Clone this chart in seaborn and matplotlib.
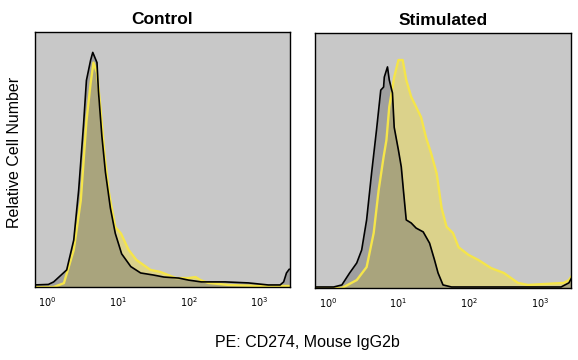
import numpy as np
import matplotlib
matplotlib.use("Agg")
from matplotlib import pyplot as plt
import seaborn as sns

# decade position (log10 of PE intensity) and relative cell number (% of axis height)
ctrl_iso_x = [-0.2, 0.01, 0.085, 0.27, 0.37, 0.44, 0.51, 0.55, 0.61, 0.64, 0.70, 0.72, 0.77, 0.82, 0.89, 0.96,
              1.05, 1.18, 1.32, 1.50, 1.65, 1.86, 2.0, 2.18, 2.52, 2.85, 3.13, 3.30, 3.35, 3.39, 3.43]
ctrl_iso_y = [0.8, 1.0, 2.0, 6.7, 18.4, 38, 64, 81, 89, 92, 88, 77, 59, 45, 31, 21,
              13, 8, 5.5, 4.7, 3.9, 3.5, 2.7, 2.0, 2.0, 1.6, 0.8, 0.8, 2.0, 5.5, 7.0]
ctrl_cd_x = [-0.2, 0.085, 0.23, 0.37, 0.47, 0.55, 0.61, 0.65, 0.70, 0.75, 0.81, 0.87, 0.96, 1.04, 1.15, 1.26,
             1.46, 1.60, 1.82, 2.0, 2.10, 2.17, 2.28, 2.57, 3.0, 3.43]
ctrl_cd_y = [0.0, 0.0, 1.5, 14.5, 34, 65, 80, 88, 84, 70, 51, 37, 23.5, 21, 14.5, 10.6,
             6.7, 5.9, 3.5, 3.5, 3.9, 2.7, 1.6, 0.8, 0.4, 0.4]

stim_iso_x = [-0.16, 0.085, 0.20, 0.31, 0.41, 0.48, 0.55, 0.62, 0.69, 0.75, 0.79, 0.80, 0.845, 0.87, 0.915,
              0.94, 1.0, 1.04, 1.07, 1.11, 1.18, 1.25, 1.35, 1.44, 1.51, 1.56, 1.63, 1.75, 2.45, 3.30, 3.41, 3.45]
stim_iso_y = [0.4, 0.4, 1.2, 5.9, 9.8, 14.9, 26.7, 45, 62, 77.6, 78.8, 82.7, 86.7, 81.6, 76.5,
              63, 54, 47.5, 38.4, 26.7, 25.5, 23.5, 22, 17.6, 11, 5.9, 1.2, 0.4, 0.4, 0.4, 2.0, 4.0]
stim_cd_x = [-0.16, 0.20, 0.41, 0.55, 0.65, 0.72, 0.79, 0.83, 0.87, 0.94, 1.0, 1.06, 1.11, 1.18, 1.25, 1.32,
             1.39, 1.46, 1.54, 1.61, 1.68, 1.77, 1.85, 1.99, 2.13, 2.31, 2.49, 2.69, 2.83, 3.34, 3.41, 3.45]
stim_cd_y = [0.0, 0.0, 3.1, 8.2, 21.6, 38.4, 51.4, 58, 71, 82.7, 89.4, 89.4, 81.6, 75, 71, 67,
             59, 53, 45, 31.4, 24, 21.6, 16, 13, 11, 7.8, 5.9, 2.0, 1.2, 2.0, 3.1, 4.7]

titles = ["Control", "Stimulated"]
xlabel = "PE: CD274, Mouse IgG2b"
ylabel = "Relative Cell Number"

sns.set_style("white")
plt.rcParams['font.family'] = ['Liberation Sans', 'DejaVu Sans']
plt.rcParams['text.color'] = 'black'
plt.rcParams['xtick.color'] = 'black'

fig = plt.figure(figsize=(5.78, 3.6), dpi=100)
ax1 = fig.add_axes([35 / 578, 73 / 360, 255 / 578, 255 / 360])
ax2 = fig.add_axes([315 / 578, 72 / 360, 256 / 578, 255 / 360])

panels = [(ax1, ctrl_iso_x, ctrl_iso_y, ctrl_cd_x, ctrl_cd_y),
          (ax2, stim_iso_x, stim_iso_y, stim_cd_x, stim_cd_y)]

for (ax, ix, iy, cx, cy), title in zip(panels, titles):
    ax.set_facecolor('#c8c8c8')
    ix_v = 10 ** np.array(ix)
    cx_v = 10 ** np.array(cx)
    ax.fill_between(cx_v, cy, color='#ebdc5a', alpha=0.55, lw=0)
    ax.fill_between(ix_v, iy, color='#6e6e6e', alpha=0.45, lw=0)
    sns.lineplot(x=cx_v, y=cy, sort=False, ax=ax, color='#f5e54a', lw=1.7)
    sns.lineplot(x=ix_v, y=iy, sort=False, ax=ax, color='black', lw=1.2)
    ax.set_xscale('log')
    ax.set_xlim(10 ** -0.18, 10 ** 3.44)
    ax.set_ylim(0, 100)
    ax.set_xticks([1, 10, 100, 1000])
    ax.set_xticklabels([r'$10^{0}$', r'$10^{1}$', r'$10^{2}$', r'$10^{3}$'])
    ax.xaxis.set_minor_locator(matplotlib.ticker.NullLocator())
    ax.set_yticks([])
    ax.tick_params(axis='x', length=0, pad=6, labelsize=7, labelcolor='black')
    for s in ax.spines.values():
        s.set_color('black')
        s.set_linewidth(1.0)
        s.set_visible(True)
    ax.set_title(title, fontsize=12.5, fontweight='bold', pad=6, color='black')
    ax.set_xlabel('')
    ax.set_ylabel('')

fig.text(15 / 578, 1 - 152 / 360, ylabel, rotation=90, ha='center', va='center', fontsize=11.5)
fig.text(307 / 578, 1 - 343 / 360, xlabel, ha='center', va='center', fontsize=11.5)

fig.savefig('out.png', dpi=100)
